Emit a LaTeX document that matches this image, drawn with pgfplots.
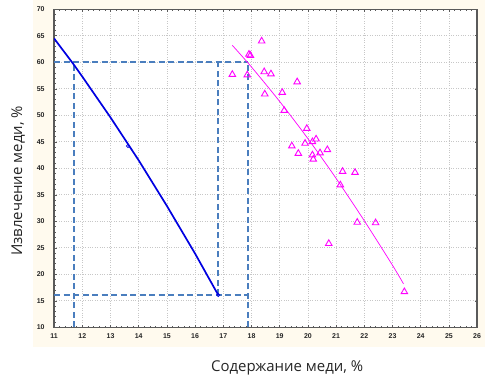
\documentclass[border=0pt]{standalone}
\usepackage{fontspec}
\setmainfont{Open Sans}
\newfontfamily\tickfont{Liberation Sans}
\usepackage{pgfplots}
\pgfplotsset{compat=1.18}
\definecolor{cream}{RGB}{255,250,238}
\definecolor{dashblue}{RGB}{74,126,190}
\definecolor{mag}{RGB}{255,0,255}
\definecolor{framec}{RGB}{90,90,90}
\definecolor{lineblue}{RGB}{0,0,225}
\begin{document}
\begin{tikzpicture}[x=1bp,y=1bp]
\fill[white] (0,0) rectangle (486,386);
\fill[cream] (33,39) rectangle (485,386);
\begin{axis}[
  at={(54.1bp,58.7bp)}, anchor=south west,
  scale only axis, width=423bp, height=318bp,
  xmin=11, xmax=26, ymin=10, ymax=70,
  xtick={11,12,...,26}, ytick={10,15,...,70},
  /pgf/number format/assume math mode=true,
  grid=major, major grid style={black!22, dotted, line width=0.7pt},
  axis line style={framec, line width=1.3pt},
  tick style={framec, line width=0.6pt},
  major tick length=2.5bp,
  minor tick length=1.5bp,
  tick align=inside,
  minor x tick num=4, minor y tick num=4,
  axis background/.style={fill=white},
  ticklabel style={font=\tickfont\bfseries\fontsize{7}{8}\selectfont, text=black!85},
  xticklabel style={yshift=-2.5bp},
  yticklabel style={xshift=-6bp},
  xlabel={Содержание меди, \%},
  ylabel={Извлечение меди, \%},
  xlabel style={at={(axis description cs:0.551,-0.139)}, anchor=base, font=\fontsize{15}{18}\selectfont, text=black!85},
  ylabel style={at={(axis description cs:-0.0853,0.46)}, anchor=center, font=\fontsize{15}{18}\selectfont, text=black!85},
]
% dashed guide lines
\addplot[dashblue, line width=1.7pt, dash pattern=on 6bp off 3.5bp, forget plot] coordinates {(11,60) (17.87,60)};
\addplot[dashblue, line width=1.7pt, dash pattern=on 6bp off 3.5bp, forget plot] coordinates {(11,16.07) (17.87,16.07)};
\addplot[dashblue, line width=1.8pt, dash pattern=on 6bp off 3.5bp, forget plot] coordinates {(11.71,10.05) (11.71,60)};
\addplot[dashblue, line width=1.7pt, dash pattern=on 6bp off 3.5bp, forget plot] coordinates {(16.82,16.07) (16.82,60)};
\addplot[dashblue, line width=1.7pt, dash pattern=on 6bp off 3.5bp, forget plot] coordinates {(17.87,10) (17.87,60)};
% blue curve
\addplot[lineblue, line width=1.7pt, forget plot] coordinates {
(11,64.5) (11.68,59.7) (12,57.3) (13,49.6) (14,41.5) (15,32.9) (16,23.9) (16.82,16.1)};
\addplot[lineblue, only marks, mark=o, mark size=1.6pt, mark options={line width=0.7pt}, forget plot] coordinates {(13.62,44.2) (16.82,16.1)};
% magenta fit
\addplot[mag, line width=0.7pt, smooth, forget plot] coordinates {
(17.32,63.2) (18,59.1) (19,52.6) (20,45.6) (21,38.1) (22,30.1) (23,21.7) (23.39,18.2)};
% magenta points
\addplot[mag, only marks, mark=triangle, mark size=3.8pt, mark options={line width=0.9pt}, forget plot] coordinates {
(18.36,64.0) (17.91,61.5) (17.96,61.3) (17.32,57.7) (17.85,57.6) (18.45,58.2) (18.69,57.8)
(19.62,56.3) (18.47,54.0) (19.09,54.3) (19.16,50.9) (19.96,47.5) (19.43,44.2) (19.90,44.7)
(20.16,45.0) (20.29,45.5) (19.66,42.8) (20.16,42.5) (20.19,41.7) (20.43,42.9) (20.69,43.5)
(21.23,39.4) (21.67,39.2) (21.15,36.85) (21.75,29.8) (22.40,29.7) (20.74,25.8) (23.42,16.7)};
\end{axis}
\end{tikzpicture}
\end{document}
